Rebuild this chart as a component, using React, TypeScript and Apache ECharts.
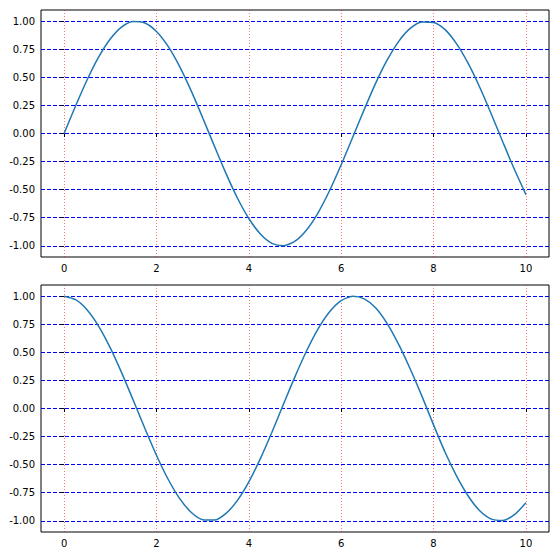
import React, { useEffect, useRef } from "react";
import * as echarts from "echarts";

const xValues = [0, 0.25, 0.5, 0.75, 1, 1.25, 1.5, 1.75, 2, 2.25, 2.5, 2.75, 3, 3.25, 3.5, 3.75, 4, 4.25, 4.5, 4.75, 5, 5.25, 5.5, 5.75, 6, 6.25, 6.5, 6.75, 7, 7.25, 7.5, 7.75, 8, 8.25, 8.5, 8.75, 9, 9.25, 9.5, 9.75, 10];
const sinValues = [0, 0.247, 0.479, 0.682, 0.841, 0.949, 0.997, 0.984, 0.909, 0.778, 0.598, 0.382, 0.141, -0.108, -0.351, -0.572, -0.757, -0.895, -0.978, -0.999, -0.959, -0.859, -0.706, -0.508, -0.279, -0.033, 0.215, 0.451, 0.657, 0.823, 0.938, 0.994, 0.989, 0.925, 0.798, 0.624, 0.412, 0.174, -0.075, -0.319, -0.544];
const cosValues = [1.0, 0.969, 0.878, 0.732, 0.54, 0.315, 0.071, -0.178, -0.416, -0.628, -0.801, -0.924, -0.99, -0.994, -0.936, -0.821, -0.654, -0.446, -0.211, 0.038, 0.284, 0.512, 0.709, 0.861, 0.96, 0.999, 0.977, 0.896, 0.754, 0.566, 0.347, 0.108, -0.146, -0.39, -0.602, -0.779, -0.911, -0.985, -0.997, -0.946, -0.839];
const xTicks = [0, 2, 4, 6, 8, 10];
const yTicks = [-1, -0.75, -0.5, -0.25, 0, 0.25, 0.5, 0.75, 1];

const FONT = "DejaVu Sans";

function makeX(gridIndex: number) {
  return {
    type: "value",
    gridIndex,
    min: -0.5,
    max: 10.5,
    axisLine: { show: false },
    axisTick: { show: true, customValues: xTicks, length: 3.5, lineStyle: { color: "#000", width: 1 } },
    axisLabel: { customValues: xTicks, color: "#000", fontFamily: FONT, fontSize: 10, margin: 6, formatter: (v: number) => String(v) },
    splitLine: { show: true, lineStyle: { color: "rgba(255,0,0,0.55)", type: [1, 2], width: 1 } },
  };
}

function makeY(gridIndex: number) {
  return {
    type: "value",
    gridIndex,
    min: -1.1,
    max: 1.1,
    axisLine: { show: false },
    axisTick: { show: true, customValues: yTicks, length: 3.5, lineStyle: { color: "#000", width: 1 } },
    axisLabel: { customValues: yTicks, color: "#000", fontFamily: FONT, fontSize: 10, margin: 6, formatter: (v: number) => v.toFixed(2) },
    splitLine: { show: true, lineStyle: { color: "#0000ff", type: [4, 2], width: 1 } },
  };
}

function makeSeries(values: number[], idx: number) {
  return {
    type: "line",
    xAxisIndex: idx,
    yAxisIndex: idx,
    data: xValues.map((x, i) => [x, values[i]]),
    showSymbol: false,
    smooth: 0.25,
    lineStyle: { color: "#1f77b4", width: 1.5 },
    z: 3,
  };
}

export default function App() {
  const ref = useRef<HTMLDivElement>(null);
  useEffect(() => {
    if (!ref.current) return;
    const chart = echarts.init(ref.current, undefined, { renderer: "svg" });
    chart.setOption({
      animation: false,
      backgroundColor: "#fff",
      grid: [
        { left: 41, right: 11, top: 10, height: 247, show: true, borderColor: "#000", borderWidth: 1, backgroundColor: "transparent" },
        { left: 41, right: 11, top: 285, height: 247, show: true, borderColor: "#000", borderWidth: 1, backgroundColor: "transparent" },
      ],
      xAxis: [makeX(0), makeX(1)],
      yAxis: [makeY(0), makeY(1)],
      series: [makeSeries(sinValues, 0), makeSeries(cosValues, 1)],
    });
    return () => chart.dispose();
  }, []);
  return <div ref={ref} style={{ position: "fixed", left: 0, top: 0, width: 560, height: 560 }} />;
}
